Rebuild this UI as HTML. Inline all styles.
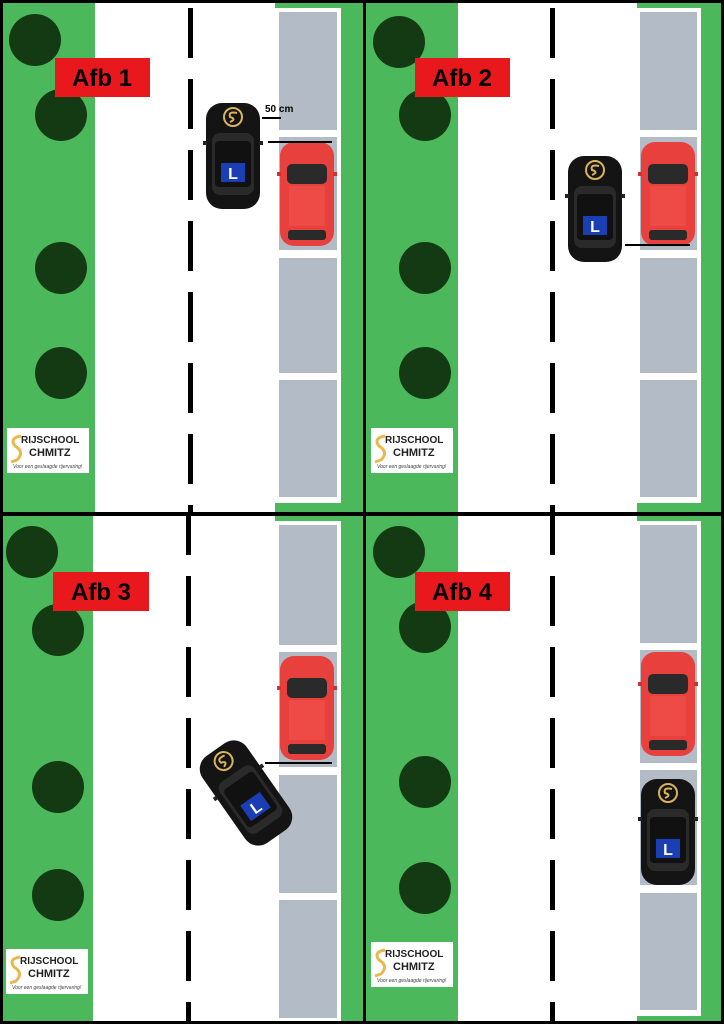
<!DOCTYPE html>
<html><head><meta charset="utf-8"><style>
body{margin:0;width:724px;height:1024px;overflow:hidden;background:#000;}
svg{display:block}
</style></head><body>
<svg width="724" height="1024" viewBox="0 0 724 1024" xmlns="http://www.w3.org/2000/svg" font-family="Liberation Sans, sans-serif">
<defs>
<g id="bcar">
<rect x="0" y="0" width="54" height="106" rx="16" fill="#141414"/>
<rect x="6" y="30" width="42" height="62" rx="8" fill="#2a2a2a"/>
<rect x="9" y="38" width="36" height="46" rx="4" fill="#111"/>
<circle cx="27" cy="14" r="9" fill="none" stroke="#d9b45a" stroke-width="2"/>
<path d="M31 10 Q22 8 24 14 Q31 16 24 19" fill="none" stroke="#d9b45a" stroke-width="2"/>
<rect x="15" y="60" width="24" height="19" fill="#1a3fb5"/>
<text x="27" y="76" fill="#fff" font-size="16" font-weight="bold" text-anchor="middle">L</text>
<rect x="-3" y="38" width="4" height="4" fill="#222"/><rect x="53" y="38" width="4" height="4" fill="#222"/>
</g>
<g id="rcar">
<rect x="0" y="0" width="54" height="104" rx="14" fill="#e8403d"/>
<rect x="7" y="22" width="40" height="20" rx="5" fill="#2a2a2a"/>
<rect x="9" y="44" width="36" height="40" fill="#ee4a46"/>
<rect x="8" y="88" width="38" height="10" rx="3" fill="#2a2a2a"/>
<rect x="-3" y="30" width="4" height="4" fill="#c33"/><rect x="53" y="30" width="4" height="4" fill="#c33"/>
</g>
<g id="logo">
<rect x="0" y="0" width="82" height="45" fill="#fff"/>
<text x="14" y="15" font-size="10" font-weight="bold" fill="#222">RIJSCHOOL</text>
<text x="22" y="28" font-size="11" font-weight="bold" fill="#222">CHMITZ</text>
<path d="M14 8 Q2 10 8 18 Q18 24 10 32 L4 34" fill="none" stroke="#e8b84a" stroke-width="3"/>
<text x="6" y="40" font-size="5" font-style="italic" fill="#444">Voor een geslaagde rijervaring!</text>
</g>
<pattern id="dash" x="0" y="8" width="724" height="71" patternUnits="userSpaceOnUse"><rect x="0" y="0" width="724" height="50" fill="#000"/></pattern>
</defs>

<!-- Panel 1 -->
<rect x="3" y="3" width="360" height="509" fill="#4cb85c"/>
<rect x="95" y="3" width="180" height="509" fill="#fff"/>
<rect x="188" y="3" width="5" height="509" fill="url(#dash)"/>
<rect x="275" y="8" width="66" height="495" fill="#fff"/>
<g fill="#b3bcc6"><rect x="279" y="12" width="58" height="118"/><rect x="279" y="137" width="58" height="113"/><rect x="279" y="258" width="58" height="115"/><rect x="279" y="380" width="58" height="117"/></g>
<g fill="#143a14"><circle cx="35" cy="40" r="26"/><circle cx="61" cy="115" r="26"/><circle cx="61" cy="268" r="26"/><circle cx="61" cy="373" r="26"/></g>
<rect x="55" y="58" width="95" height="39" fill="#e8181c"/>
<text x="102" y="86" font-size="24" font-weight="bold" text-anchor="middle">Afb 1</text>
<use href="#logo" x="7" y="428"/>
<use href="#rcar" x="280" y="142"/>
<use href="#bcar" x="206" y="103"/>
<text x="265" y="112" font-size="10" font-weight="bold">50 cm</text>
<line x1="262" y1="118" x2="281" y2="118" stroke="#000" stroke-width="2"/>
<line x1="268" y1="142" x2="332" y2="142" stroke="#000" stroke-width="2"/>

<!-- Panel 2 -->
<rect x="366" y="3" width="355" height="509" fill="#4cb85c"/>
<rect x="458" y="3" width="179" height="509" fill="#fff"/>
<rect x="550" y="3" width="5" height="509" fill="url(#dash)"/>
<rect x="637" y="8" width="64" height="495" fill="#fff"/>
<g fill="#b3bcc6"><rect x="640" y="12" width="57" height="118"/><rect x="640" y="137" width="57" height="113"/><rect x="640" y="258" width="57" height="115"/><rect x="640" y="380" width="57" height="117"/></g>
<g fill="#143a14"><circle cx="399" cy="42" r="26"/><circle cx="425" cy="115" r="26"/><circle cx="425" cy="268" r="26"/><circle cx="425" cy="373" r="26"/></g>
<rect x="415" y="58" width="95" height="39" fill="#e8181c"/>
<text x="462" y="86" font-size="24" font-weight="bold" text-anchor="middle">Afb 2</text>
<use href="#logo" x="371" y="428"/>
<use href="#rcar" x="641" y="142"/>
<use href="#bcar" x="568" y="156"/>
<line x1="625" y1="245" x2="690" y2="245" stroke="#000" stroke-width="2"/>

<!-- Panel 3 -->
<rect x="3" y="516" width="360" height="505" fill="#4cb85c"/>
<rect x="93" y="516" width="182" height="505" fill="#fff"/>
<rect x="186" y="516" width="5" height="505" fill="url(#dash)"/>
<rect x="275" y="521" width="66" height="500" fill="#fff"/>
<g fill="#b3bcc6"><rect x="279" y="525" width="58" height="120"/><rect x="279" y="652" width="58" height="115"/><rect x="279" y="775" width="58" height="118"/><rect x="279" y="900" width="58" height="118"/></g>
<g fill="#143a14"><circle cx="32" cy="552" r="26"/><circle cx="58" cy="630" r="26"/><circle cx="58" cy="787" r="26"/><circle cx="58" cy="895" r="26"/></g>
<rect x="53" y="572" width="96" height="39" fill="#e8181c"/>
<text x="101" y="600" font-size="24" font-weight="bold" text-anchor="middle">Afb 3</text>
<use href="#logo" x="6" y="949"/>
<use href="#rcar" x="280" y="656"/>
<use href="#bcar" transform="translate(246 793) rotate(-35) translate(-27 -53)"/>
<line x1="265" y1="763" x2="332" y2="763" stroke="#000" stroke-width="2"/>

<!-- Panel 4 -->
<rect x="366" y="516" width="355" height="505" fill="#4cb85c"/>
<rect x="458" y="516" width="179" height="505" fill="#fff"/>
<rect x="550" y="516" width="5" height="505" fill="url(#dash)"/>
<rect x="637" y="521" width="64" height="495" fill="#fff"/>
<g fill="#b3bcc6"><rect x="640" y="525" width="57" height="118"/><rect x="640" y="650" width="57" height="113"/><rect x="640" y="770" width="57" height="115"/><rect x="640" y="893" width="57" height="117"/></g>
<g fill="#143a14"><circle cx="399" cy="552" r="26"/><circle cx="425" cy="627" r="26"/><circle cx="425" cy="782" r="26"/><circle cx="425" cy="888" r="26"/></g>
<rect x="415" y="572" width="95" height="39" fill="#e8181c"/>
<text x="462" y="600" font-size="24" font-weight="bold" text-anchor="middle">Afb 4</text>
<use href="#logo" x="371" y="942"/>
<use href="#rcar" x="641" y="652"/>
<use href="#bcar" x="641" y="779"/>
</svg>
</body></html>
